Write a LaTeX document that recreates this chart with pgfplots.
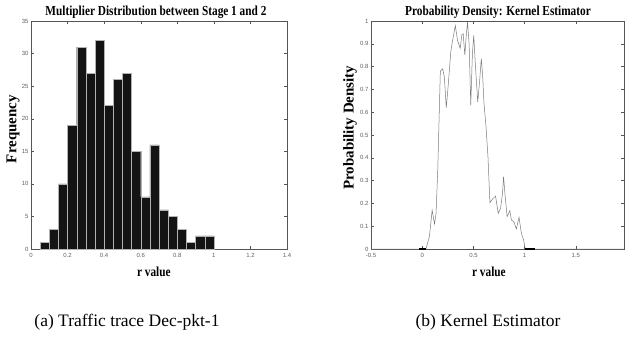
\documentclass[border=0pt]{standalone}
\usepackage{fontspec}
\setmainfont{Liberation Serif}
\setsansfont{Liberation Sans}
\usepackage{graphicx}
\usepackage{pgfplots}
\pgfplotsset{compat=1.18}
\definecolor{barfill}{HTML}{141414}
\definecolor{spine}{HTML}{555555}
\definecolor{ticklab}{HTML}{606060}
\definecolor{curve}{HTML}{7A7A7A}
\newcommand{\tl}[1]{\scalebox{1}[1.22]{\fontsize{11.3}{12}\selectfont\bfseries #1}}
\begin{document}
\begin{tikzpicture}
\pgfplotsset{
  myax/.style={
    scale only axis,
    axis line style={spine, line width=0.5pt},
    tick style={spine, line width=0.4pt},
    major tick length=3pt,
    tick align=inside,
    tick pos=both,
    tick label style={font=\sffamily\fontsize{6}{6}\selectfont, text=ticklab},
    /pgf/number format/assume math mode=true,
    xticklabel style={yshift=-1pt},
    yticklabel style={xshift=1pt},
    ylabel style={font=\fontsize{15}{15}\selectfont\bfseries, anchor=center},
    xlabel style={anchor=center},
    title style={anchor=center, inner sep=0pt},
  }
}
\begin{axis}[myax, at={(31pt,100pt)}, anchor=south west, width=256pt, height=228pt,
  xmin=0, xmax=1.4, ymin=0, ymax=35,
  xtick={0,0.2,0.4,0.6,0.8,1,1.2,1.4},
  ytick={0,5,10,15,20,25,30,35},
  title={\tl{Multiplier Distribution between Stage 1 and 2}},
  title style={at={(axis description cs:0.488,1.014)}},
  xlabel={\tl{r value}},
  xlabel style={at={(axis description cs:0.48,-0.10)}},
  ylabel={Frequency},
  ylabel style={at={(axis description cs:-0.07,0.526)}},
]
\addplot[ybar interval, fill=barfill, draw=gray!60, line width=0.4pt] coordinates {
(0.05,1)(0.10,3)(0.15,10)(0.20,19)(0.25,31)(0.30,27)(0.35,32)(0.40,22)(0.45,26)(0.50,27)
(0.55,15)(0.60,8)(0.65,16)(0.70,6)(0.75,5)(0.80,3)(0.85,1)(0.90,2)(0.95,2)(1.00,0)};
\end{axis}
\begin{axis}[myax, at={(371pt,100pt)}, anchor=south west, width=253pt, height=228pt,
  xmin=-0.5, xmax=1.97, ymin=0, ymax=1,
  xtick={-0.5,0,0.5,1,1.5},
  ytick={0,0.1,0.2,0.3,0.4,0.5,0.6,0.7,0.8,0.9,1},
  title={\tl{Probability Density: Kernel Estimator}},
  title style={at={(axis description cs:0.502,1.014)}},
  xlabel={\tl{r value}},
  xlabel style={at={(axis description cs:0.466,-0.10)}},
  ylabel={Probability Density},
  ylabel style={at={(axis description cs:-0.083,0.532)}},
]
\addplot[curve, line width=0.5pt] coordinates {
(-0.5,0)(0.036,0)(0.07,0.054)(0.097,0.17)(0.12,0.11)(0.135,0.156)(0.152,0.35)(0.177,0.78)(0.2,0.79)
(0.216,0.755)(0.235,0.62)(0.255,0.725)(0.28,0.87)(0.297,0.915)(0.323,0.98)(0.345,0.915)(0.371,0.88)
(0.387,0.94)(0.4,0.945)(0.416,0.85)(0.429,0.93)(0.442,0.995)(0.458,0.9)(0.474,0.63)(0.49,0.857)
(0.503,0.937)(0.52,0.8)(0.542,0.645)(0.561,0.74)(0.577,0.835)(0.59,0.76)(0.603,0.64)(0.623,0.536)
(0.642,0.404)(0.661,0.203)(0.684,0.218)(0.716,0.232)(0.742,0.156)(0.765,0.178)(0.784,0.244)
(0.794,0.317)(0.81,0.23)(0.829,0.142)(0.855,0.168)(0.871,0.127)(0.894,0.12)(0.919,0.088)
(0.945,0.139)(0.968,0.069)(0.99,0.04)(1.006,0)(1.97,0)};
\addplot[black, line width=1.2pt] coordinates {(-0.03,0)(0.036,0)};
\addplot[black, line width=1.2pt] coordinates {(1.0,0)(1.1,0)};
\end{axis}
\node[font=\fontsize{17.5}{17.5}\selectfont] at (127pt,27pt) {(a) Traffic trace Dec-pkt-1};
\node[font=\fontsize{17.5}{17.5}\selectfont] at (488pt,27pt) {(b) Kernel Estimator};
\pgfresetboundingbox
\path (0pt,0pt) rectangle (625pt,349pt);
\end{tikzpicture}
\end{document}
